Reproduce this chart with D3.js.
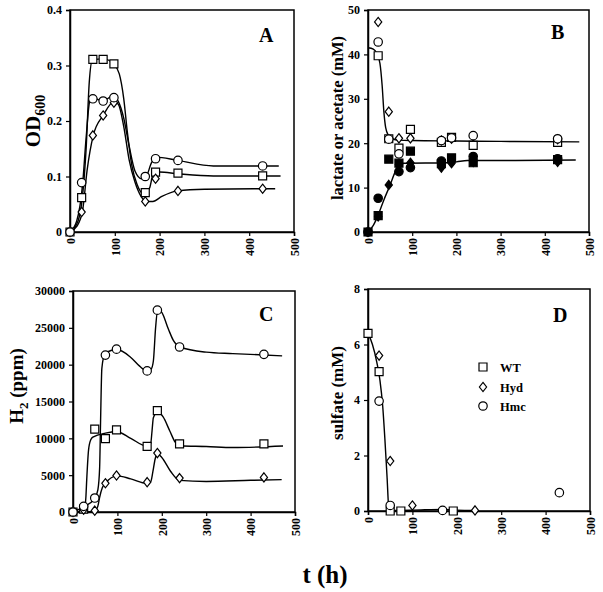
<!DOCTYPE html>
<html><head><meta charset="utf-8">
<script src="https://cdn.jsdelivr.net/npm/d3@7"></script>
<style>
body{margin:0;background:#fff}
svg{display:block}
text{font-family:"Liberation Serif","Times New Roman",serif;font-weight:bold;fill:#000}
</style>
</head><body>
<svg id="c" width="603" height="592"></svg>
<script>
// ---------- DATA ----------
const xTicks = [0, 100, 200, 300, 400, 500];
const series = ["WT", "Hyd", "Hmc"];

// Panel A: OD600
const tA = [0, 26, 51, 74, 98, 168, 191, 241, 430];
const odWT  = [0, 0.062, 0.311, 0.311, 0.303, 0.071, 0.108, 0.106, 0.101];
const odHyd = [0, 0.036, 0.174, 0.210, 0.233, 0.055, 0.096, 0.074, 0.078];
const odHmc = [0, 0.089, 0.240, 0.236, 0.242, 0.100, 0.132, 0.129, 0.119];
const fitOdWT  = [[0,0],[18,0.02],[28,0.065],[36,0.15],[43,0.27],[50,0.31],[75,0.312],[98,0.302],[110,0.285],[120,0.24],[128,0.18],[138,0.12],[150,0.085],[165,0.068],[178,0.08],[186,0.105],[200,0.108],[240,0.105],[320,0.101],[470,0.101]];
const fitOdHyd = [[0,0],[15,0.01],[28,0.038],[38,0.11],[52,0.174],[74,0.21],[98,0.235],[108,0.23],[120,0.19],[132,0.13],[145,0.09],[158,0.065],[170,0.055],[185,0.055],[205,0.064],[240,0.074],[300,0.077],[458,0.078]];
const fitOdHmc = [[0,0],[15,0.02],[28,0.085],[36,0.17],[44,0.235],[52,0.241],[74,0.236],[95,0.245],[108,0.235],[120,0.205],[132,0.155],[145,0.11],[160,0.096],[170,0.1],[182,0.125],[192,0.135],[240,0.129],[320,0.119],[466,0.119]];
const yTicksA = [0, 0.1, 0.2, 0.3, 0.4];
const yLabelsA = ["0", "0.1", "0.2", "0.3", "0.4"];

// Panel B: lactate (open) and acetate (filled), mM
const tB = [0, 23, 47, 70, 96, 166, 189, 238, 429];
const lacWT  = [null, 39.7, 21.0, 18.9, 23.1, 20.2, 21.3, 19.5, 20.2];
const lacHyd = [null, 47.3, 27.1, 21.1, 21.1, 20.6, 21.0, 21.5, 20.9];
const lacHmc = [null, 42.8, 20.9, 17.6, null, 20.6, 21.2, 21.7, 21.0];
const aceWT  = [0, 3.7, 16.4, 15.5, 18.2, 15.4, 16.7, 15.6, 16.3];
const aceHyd = [0, 3.5, 10.6, 15.2, 15.6, 14.5, 15.5, 15.8, 15.8];
const aceHmc = [0, 7.6, null, 13.6, 14.5, 16.0, null, 17.0, 16.5];
const fitLac = [[0,41.5],[12,41.2],[20,40.2],[27,38],[32,33],[36,27],[40,23.5],[46,21.8],[55,21],[70,20.7],[100,20.6],[200,20.5],[300,20.4],[478,20.3]];
const fitAce = [[0,0],[12,1.5],[23,3.8],[35,7],[50,10.6],[60,13.2],[70,15.2],[80,15.5],[180,15.6],[200,15.8],[225,16.1],[300,16.1],[470,16.2]];
const yTicksB = [0, 10, 20, 30, 40, 50];
const yLabelsB = ["0", "10", "20", "30", "40", "50"];

// Panel C: H2 (ppm)
const tC = [0, 24, 49, 73, 98, 167, 190, 240, 430];
const h2WT  = [0, 400, 11250, 9950, 11150, 8900, 13750, 9250, 9250];
const h2Hyd = [0, 300, 180, 3900, 4950, 4050, 8000, 4600, 4700];
const h2Hmc = [0, 770, 1900, 21300, 22100, 19150, 27400, 22400, 21400];
const fitH2WT  = [[0,0],[20,100],[26,400],[29,2000],[31,4500],[35,8400],[40,9800],[46,10200],[73,10700],[99,10900],[130,10000],[166,8950],[175,9300],[178,11000],[181,12800],[191,13600],[203,12900],[218,11000],[230,9500],[241,9000],[300,8900],[360,8750],[473,8950]];
const fitH2Hyd = [[0,0],[40,50],[50,200],[56,800],[60,2000],[66,3300],[73,3900],[99,4900],[130,4500],[166,3900],[175,4100],[180,5500],[185,7200],[190,7900],[200,7400],[220,5500],[240,4300],[300,4150],[400,4300],[470,4400]];
const fitH2Hmc = [[0,0],[24,700],[49,1900],[56,3000],[60,6000],[62,12000],[65,19500],[72,21500],[99,22050],[129,21050],[150,19800],[166,19150],[176,19400],[181,20500],[186,25000],[191,27500],[200,27100],[215,24800],[226,23300],[241,22400],[300,21700],[360,21500],[471,21200]];
const yTicksC = [0, 5000, 10000, 15000, 20000, 25000, 30000];
const yLabelsC = ["0", "5000", "10000", "15000", "20000", "25000", "30000"];

// Panel D: sulfate (mM)
const tD = [0, 25, 50, 74, 100, 168, 192, 241, 431];
const so4WT  = [6.4, 5.02, 0, 0, null, null, 0, null, null];
const so4Hyd = [null, 5.6, 1.8, null, 0.2, null, null, 0.02, null];
const so4Hmc = [null, 3.96, 0.2, null, null, 0.02, null, null, 0.66];
const fitSo4 = [[0,6.4],[10,6.0],[20,5.35],[27,4.7],[33,3.8],[38,2.6],[43,1.2],[47,0.1],[55,0.02],[100,0.03],[168,0.06],[200,0.03],[241,0.02]];
const yTicksD = [0, 2, 4, 6, 8];
const yLabelsD = ["0", "2", "4", "6", "8"];

// ---------- DRAWING ----------
const svg = d3.select("#c");

function markerPath(kind) {
  if (kind === "WT") return d3.symbol(d3.symbolSquare, 64)();
  if (kind === "Hmc") return d3.symbol(d3.symbolCircle, 56)();
  const p = d3.path();
  p.moveTo(0, -4.6); p.lineTo(3.6, 0); p.lineTo(0, 4.6); p.lineTo(-3.6, 0); p.closePath();
  return p.toString();
}

function panel(box, yDomain, yTicks, yLabels) {
  const x = d3.scaleLinear().domain([0, 500]).range([box.x0, box.x1]);
  const y = d3.scaleLinear().domain(yDomain).range([box.y1, box.y0]);
  const g = svg.append("g");
  const ax = g.append("g").attr("transform", `translate(0,${box.y1})`)
    .call(d3.axisBottom(x).tickValues(xTicks).tickSize(4).tickPadding(4).tickFormat(d3.format("d")));
  ax.selectAll("text").attr("transform", "rotate(-90)").attr("text-anchor", "end")
    .attr("x", -6).attr("y", 0).attr("dy", "0.35em");
  const ay = g.append("g").attr("transform", `translate(${box.x0},0)`)
    .call(d3.axisLeft(y).tickValues(yTicks).tickSize(4).tickPadding(4).tickFormat((d, i) => yLabels[i]));
  [ax, ay].forEach(a => {
    a.selectAll("text").style("font-family", '"Liberation Serif",serif').style("font-weight", "bold").style("font-size", "12px").attr("fill", "#000");
    a.selectAll("line").attr("stroke", "#000").attr("stroke-width", 1.2);
    a.select(".domain").attr("stroke", "#000").attr("stroke-width", 1.5);
  });
  g.append("rect").attr("x", box.x0).attr("y", box.y0)
    .attr("width", box.x1 - box.x0).attr("height", box.y1 - box.y0)
    .attr("fill", "none").attr("stroke", "#000").attr("stroke-width", 1.5);
  const line = d3.line().x(d => x(d[0])).y(d => y(d[1])).curve(d3.curveMonotoneX);
  return {
    x, y, g,
    fit(pts) {
      g.append("path").attr("d", line(pts)).attr("fill", "none").attr("stroke", "#000").attr("stroke-width", 1.4);
    },
    pts(ts, vals, kind, filled) {
      const data = ts.map((t, i) => [t, vals[i]]).filter(d => d[1] != null);
      g.append("g").selectAll("path").data(data).join("path")
        .attr("d", markerPath(kind))
        .attr("transform", d => `translate(${x(d[0])},${y(d[1])})`)
        .attr("fill", filled ? "#000" : "#fff").attr("stroke", "#000").attr("stroke-width", 1.2);
    }
  };
}

function label(cx, cy, size, parts) {
  const t = svg.append("text").attr("transform", `translate(${cx},${cy}) rotate(-90)`)
    .attr("text-anchor", "middle").attr("dy", "0.35em").style("font-size", size + "px");
  parts.forEach(p => {
    const s = t.append("tspan").text(p.t);
    if (p.dy) s.attr("dy", p.dy);
    if (p.fs) s.style("font-size", p.fs + "px");
  });
}
function letter(txt, x, y) {
  svg.append("text").attr("x", x).attr("y", y).style("font-size", "20px").text(txt);
}

// A
const pA = panel({x0: 70, x1: 294, y0: 10, y1: 232}, [0, 0.4], yTicksA, yLabelsA);
pA.fit(fitOdWT); pA.fit(fitOdHyd); pA.fit(fitOdHmc);
pA.pts(tA, odWT, "WT"); pA.pts(tA, odHyd, "Hyd"); pA.pts(tA, odHmc, "Hmc");
label(33, 121, 21, [{t: "OD"}, {t: "600", dy: 5, fs: 14}]);
letter("A", 259, 42);

// B
const pB = panel({x0: 368, x1: 589, y0: 10, y1: 232}, [0, 50], yTicksB, yLabelsB);
pB.fit(fitLac); pB.fit(fitAce);
pB.pts(tB, lacWT, "WT"); pB.pts(tB, lacHyd, "Hyd"); pB.pts(tB, lacHmc, "Hmc");
pB.pts(tB, aceWT, "WT", true); pB.pts(tB, aceHyd, "Hyd", true); pB.pts(tB, aceHmc, "Hmc", true);
label(337, 118, 16.5, [{t: "lactate or acetate (mM)"}]);
letter("B", 551, 39);

// C
const pC = panel({x0: 73, x1: 295, y0: 291, y1: 512}, [0, 30000], yTicksC, yLabelsC);
pC.fit(fitH2WT); pC.fit(fitH2Hyd); pC.fit(fitH2Hmc);
pC.pts(tC, h2WT, "WT"); pC.pts(tC, h2Hyd, "Hyd"); pC.pts(tC, h2Hmc, "Hmc");
label(16, 386, 19, [{t: "H"}, {t: "2", dy: 5, fs: 13}, {t: " (ppm)", dy: -5}]);
letter("C", 259, 321);

// D
const pD = panel({x0: 368, x1: 590, y0: 289, y1: 511}, [0, 8], yTicksD, yLabelsD);
pD.fit(fitSo4);
pD.pts(tD, so4WT, "WT"); pD.pts(tD, so4Hyd, "Hyd"); pD.pts(tD, so4Hmc, "Hmc");
label(337, 393, 17, [{t: "sulfate (mM)"}]);
letter("D", 553, 322);

// Legend
const legY = [367, 387, 406];
series.forEach((s, i) => {
  svg.append("path").attr("d", markerPath(s)).attr("transform", `translate(483,${legY[i]})`)
    .attr("fill", "#fff").attr("stroke", "#000").attr("stroke-width", 1.2);
  svg.append("text").attr("x", 500).attr("y", legY[i] + 4.5).style("font-size", "12.5px").text(s);
});

// Shared x label
svg.append("text").attr("x", 325).attr("y", 583).attr("text-anchor", "middle").style("font-size", "25px").text("t (h)");
</script>
</body></html>
